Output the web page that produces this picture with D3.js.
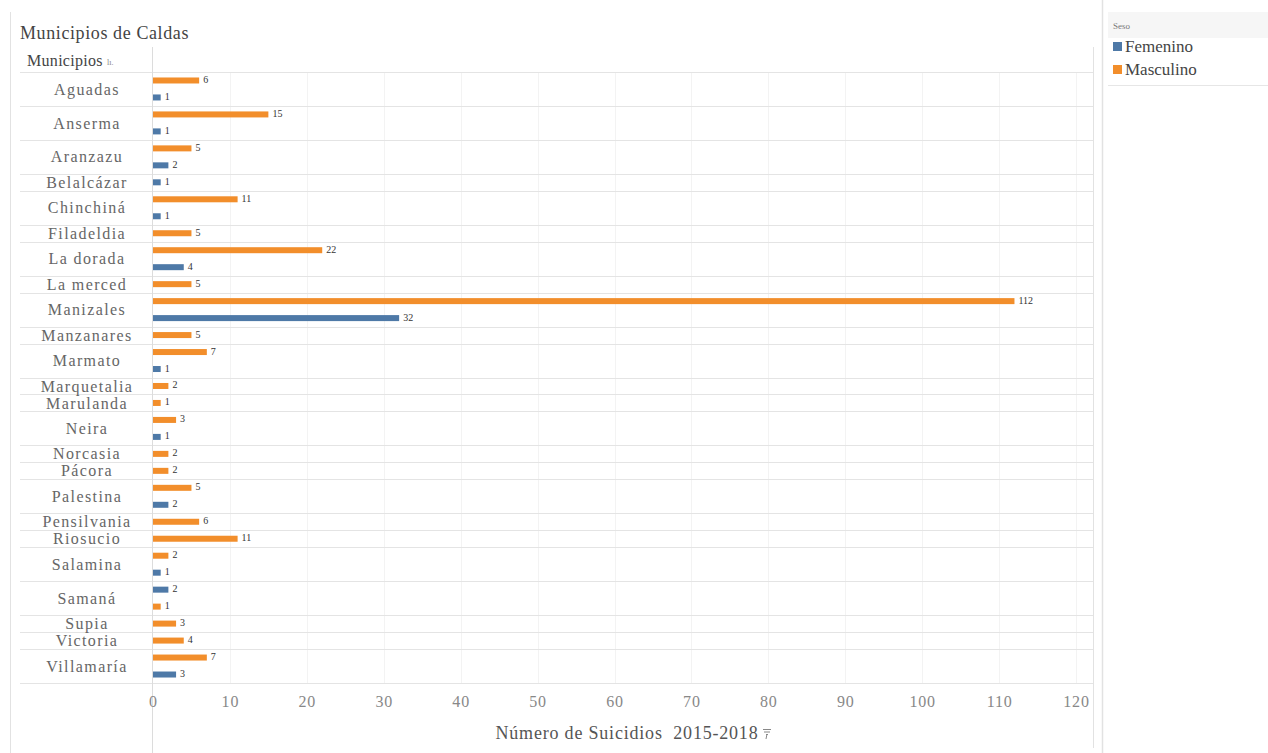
<!DOCTYPE html>
<html>
<head>
<meta charset="utf-8">
<script src="https://cdnjs.cloudflare.com/ajax/libs/d3/7.8.5/d3.min.js"></script>
<style>
  html, body { margin: 0; padding: 0; background: #fff; }
  svg { display: block; font-family: "Liberation Serif", "Times New Roman", serif; }
</style>
</head>
<body>
<svg id="chart" width="1268" height="753" font-family="Liberation Serif, serif"></svg>
<script>
// Suicides per municipality of Caldas, 2015-2018, split by sex
const municipios = ["Aguadas", "Anserma", "Aranzazu", "Belalcázar", "Chinchiná", "Filadeldia",
  "La dorada", "La merced", "Manizales", "Manzanares", "Marmato", "Marquetalia", "Marulanda",
  "Neira", "Norcasia", "Pácora", "Palestina", "Pensilvania", "Riosucio", "Salamina", "Samaná",
  "Supia", "Victoria", "Villamaría"];
const masculino = [6, 15, 5, null, 11, 5, 22, 5, 112, 5, 7, 2, 1, 3, 2, 2, 5, 6, 11, 2, 1, 3, 4, 7];
const femenino  = [1, 1, 2, 1, 1, null, 4, null, 32, null, 1, null, null, 1, null, null, 2, null, null, 1, 2, null, null, 3];
const xTicks = [0, 10, 20, 30, 40, 50, 60, 70, 80, 90, 100, 110, 120];
const sexos = ["Femenino", "Masculino"];
const colores = ["#4e79a7", "#f28e2b"];

const svg = d3.select("#chart");
const color = d3.scaleOrdinal(sexos, colores);

const paneLeft = 153, paneRight = 1093, rowsTop = 72, rowsBottom = 683;
const x = d3.scaleLinear([0, 120], [paneLeft, 1076]);

// each municipality gets one slot per sex present, ordered by value (largest first)
const rows = [];
let slot = 0;
municipios.forEach((m, i) => {
  const items = [
    { sexo: "Masculino", valor: masculino[i] },
    { sexo: "Femenino", valor: femenino[i] }
  ].filter(d => d.valor != null).sort((a, b) => b.valor - a.valor);
  items.forEach((d, k) => { d.slot = slot + k; d.municipio = m; });
  rows.push({ municipio: m, start: slot, end: slot + items.length, items });
  slot += items.length;
});
const y = d3.scaleLinear([0, slot], [rowsTop, rowsBottom]);
const bars = rows.flatMap(r => r.items);

// frame lines
const grid = "#e4e4e4";
svg.append("line").attr("x1", 10.5).attr("x2", 10.5).attr("y1", 12).attr("y2", 753).attr("stroke", "#e2e2e2");
svg.append("line").attr("x1", 1102.5).attr("x2", 1102.5).attr("y1", 0).attr("y2", 753).attr("stroke", "#e2e2e2").attr("stroke-width", 1.5);

// vertical gridlines
svg.append("g").selectAll("line").data(xTicks.slice(1)).join("line")
  .attr("x1", d => Math.round(x(d)) + 0.5).attr("x2", d => Math.round(x(d)) + 0.5)
  .attr("y1", rowsTop).attr("y2", rowsBottom)
  .attr("stroke", "#f3f3f3");

// row separators
svg.append("g").selectAll("line").data([rowsTop].concat(rows.map(r => y(r.end)))).join("line")
  .attr("x1", 20).attr("x2", paneRight)
  .attr("y1", d => Math.round(d) + 0.5).attr("y2", d => Math.round(d) + 0.5)
  .attr("stroke", grid);

// pane borders
svg.append("line").attr("x1", paneLeft - 0.5).attr("x2", paneLeft - 0.5).attr("y1", 47).attr("y2", 753).attr("stroke", "#dcdcdc");
svg.append("line").attr("x1", paneRight + 0.5).attr("x2", paneRight + 0.5).attr("y1", 47).attr("y2", 748).attr("stroke", "#e2e2e2");

// title and header
svg.append("text").attr("x", 20).attr("y", 39).attr("font-size", 18).attr("letter-spacing", 0.6)
  .attr("fill", "#444").text("Municipios de Caldas");
svg.append("text").attr("x", 27).attr("y", 66).attr("font-size", 16).attr("letter-spacing", 0.3)
  .attr("fill", "#444").text("Municipios");
svg.append("text").attr("x", 107).attr("y", 65).attr("font-size", 8).attr("fill", "#888").text("lı.");

// row labels
svg.append("g").selectAll("text").data(rows).join("text")
  .attr("x", 87)
  .attr("y", r => (y(r.start) + y(r.end)) / 2)
  .attr("dy", "0.35em")
  .attr("text-anchor", "middle")
  .attr("font-size", 16)
  .attr("letter-spacing", 1.4)
  .attr("fill", "#666")
  .text(r => r.municipio);

// bars
const barH = 6;
svg.append("g").selectAll("rect").data(bars).join("rect")
  .attr("x", x(0))
  .attr("y", d => (y(d.slot) + y(d.slot + 1)) / 2 - barH / 2)
  .attr("width", d => x(d.valor) - x(0))
  .attr("height", barH)
  .attr("fill", d => color(d.sexo));

// value labels
svg.append("g").selectAll("text").data(bars).join("text")
  .attr("x", d => x(d.valor) + 4)
  .attr("y", d => (y(d.slot) + y(d.slot + 1)) / 2 - 1)
  .attr("dy", "0.35em")
  .attr("font-size", 10)
  .attr("fill", "#333")
  .text(d => d.valor);

// x axis
const axis = svg.append("g").attr("transform", `translate(0,${rowsBottom})`)
  .call(d3.axisBottom(x).tickValues(xTicks).tickSize(0).tickPadding(13));
axis.attr("font-family", null);
axis.select(".domain").remove();
axis.selectAll("text").attr("font-size", 16).attr("letter-spacing", 0.8).attr("fill", "#888");

svg.append("text").attr("x", 627).attr("y", 739).attr("text-anchor", "middle")
  .attr("font-size", 18).attr("letter-spacing", 0.8).attr("fill", "#555").attr("xml:space", "preserve")
  .text("Número de Suicidios  2015-2018");
// small sort marker after the axis title
const iconX = 763, iconY = 729;
svg.append("g").attr("stroke", "#888").attr("stroke-width", 1)
  .selectAll("line").data([[0, 8], [1, 7], [3, 5]]).join("line")
  .attr("x1", d => iconX + d[0]).attr("x2", d => iconX + d[1])
  .attr("y1", (d, i) => iconY + i * 2.5 + 0.5).attr("y2", (d, i) => iconY + i * 2.5 + 0.5);
svg.append("line").attr("x1", iconX + 4).attr("x2", iconX + 3).attr("y1", iconY + 5).attr("y2", iconY + 10)
  .attr("stroke", "#888");

// legend
const lg = svg.append("g");
lg.append("rect").attr("x", 1108).attr("y", 12).attr("width", 160).attr("height", 26).attr("fill", "#f6f6f6");
lg.append("text").attr("x", 1113).attr("y", 29).attr("font-size", 9).attr("fill", "#777").text("Seso");
const items = lg.selectAll("g.item").data(sexos).join("g").attr("class", "item")
  .attr("transform", (d, i) => `translate(1113,${42 + i * 23})`);
items.append("rect").attr("width", 9).attr("height", 9).attr("fill", d => color(d));
items.append("text").attr("x", 12).attr("y", 9.5).attr("font-size", 17).attr("fill", "#444").text(d => d);
lg.append("line").attr("x1", 1108).attr("x2", 1268).attr("y1", 85.5).attr("y2", 85.5).attr("stroke", "#e6e6e6");
</script>
</body>
</html>
